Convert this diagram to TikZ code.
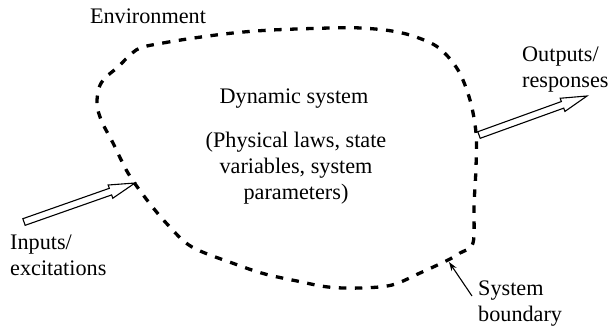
\documentclass[tikz,border=0pt]{standalone}
\usepackage{fontspec}
\setmainfont{Liberation Serif}
\usetikzlibrary{calc,arrows.meta}
\tikzset{
  label text/.style={font=\fontsize{22.2}{26}\selectfont, inner sep=0pt},
  boundary line/.style={line width=3.3pt, dash pattern=on 7.5pt off 8.5pt},
  hollow arrow/.style={line width=1.1pt, fill=white, line join=miter},
  pointer/.style={line width=1.1pt, -{Stealth[length=9pt,width=6pt]}},
}
% hollow block arrow from #1 (tail) to #2 (tip)
\newcommand\hollowarrow[2]{%
  \coordinate (#1-neck) at ($(#2)!26pt!(#1)$);
  \draw[hollow arrow]
    ($(#1)!3.5pt!90:(#2)$) -- ($(#1-neck)!3.5pt!90:(#2)$) -- ($(#1-neck)!7pt!90:(#2)$) -- (#2)
    -- ($(#1-neck)!7pt!-90:(#2)$) -- ($(#1-neck)!3.5pt!-90:(#2)$) -- ($(#1)!3.5pt!-90:(#2)$) -- cycle;
}
\begin{document}
\begin{tikzpicture}[x=1pt,y=-1pt]
\useasboundingbox (0,0) rectangle (609,327);

% system boundary
\draw[boundary line] plot[smooth cycle, tension=0.55] coordinates {
  (140,48) (163,43) (194,38) (233,33) (272,30) (330,28) (361,28) (392,31)
  (416,37) (439,48) (458,70) (470,100) (476,133) (476,167) (474,205) (473,243)
  (460,253) (448,260) (420,273) (392,285) (360,288) (328,287) (297,281)
  (265,274) (235,264) (192,247) (168,225) (147,200) (128,173) (113,143)
  (102,122) (97,105) (99,88) (105,78) (118,67) (128,57)};

% labels (base anchors of multi-line nodes sit on the last line)
\node[label text, anchor=base] (env) at (148,23) {Environment};
\node[label text, anchor=base] (dyn) at (294,103) {Dynamic system};
\node[label text, align=center, anchor=base] (laws) at (296,199)
  {(Physical laws, state\\variables, system\\parameters)};
\node[label text, align=left, anchor=base west] (out) at (522,87) {Outputs/\\responses};
\node[label text, align=left, anchor=base west] (in) at (10,275) {Inputs/\\excitations};
\node[label text, align=left, anchor=base west] (sb) at (478,321) {System\\boundary};

% arrows
\coordinate (intail) at (24,222);
\coordinate (intip) at (135,183);
\coordinate (outtail) at (479,135);
\coordinate (outtip) at (587,96);
\hollowarrow{intail}{intip}
\hollowarrow{outtail}{outtip}

\coordinate (sbtail) at (472,296);
\coordinate (sbtip) at (449,262);
\draw[pointer] (sbtail) -- (sbtip);
\end{tikzpicture}
\end{document}
